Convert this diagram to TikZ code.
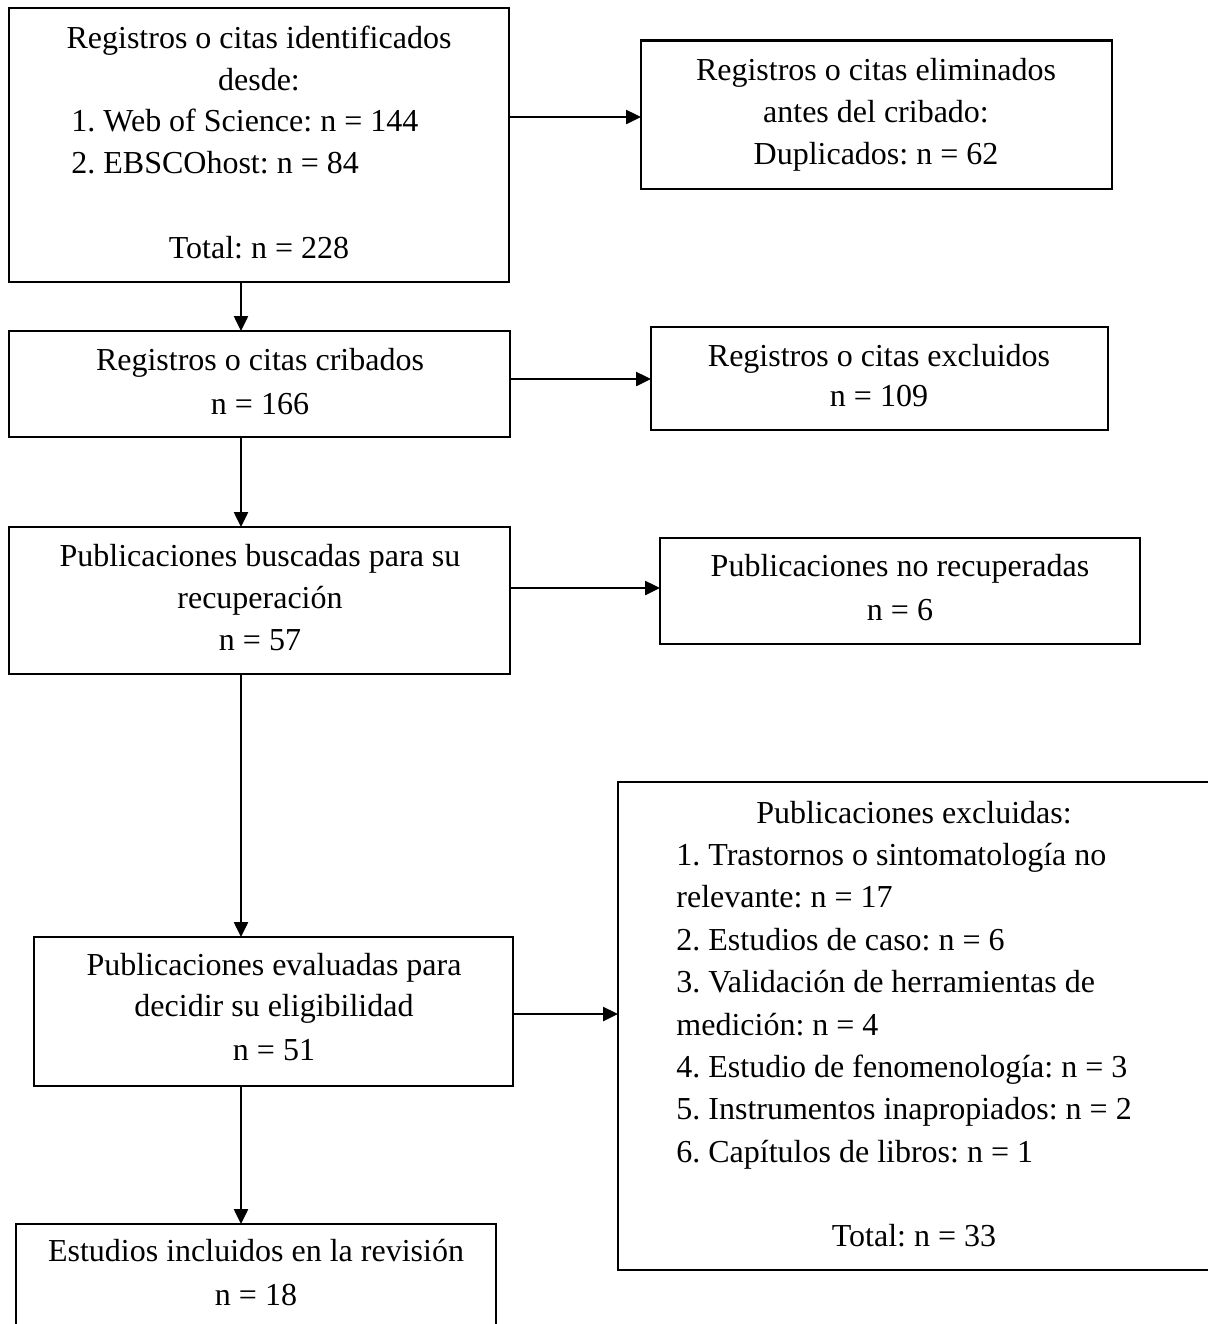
\documentclass[tikz,border=0pt]{standalone}
\usepackage{fontspec}
\setmainfont{Liberation Serif}
\frenchspacing
\usetikzlibrary{arrows.meta}
\begin{document}
\frenchspacing
\begin{tikzpicture}[x=0.5pt,y=-0.5pt,
  box/.style={draw, line width=1.1pt, inner sep=0pt, outer sep=0pt},
  txt/.style={inner sep=0pt, anchor=base, font=\fontsize{16pt}{20pt}\selectfont},
  ltxt/.style={txt, anchor=base west},
  arr/.style={line width=1.25pt, -{Triangle[length=7.5pt,width=7pt]}}]
\useasboundingbox (0,0) rectangle (1208,1324);
\clip (0,0) rectangle (1208,1324);

% boxes
\node[box, minimum width=250pt, minimum height=137pt] (A) at (259,145) {};
\node[box, minimum width=235.5pt, minimum height=74.25pt] (B) at (876.5,114.75) {};
\node[box, minimum width=250.5pt, minimum height=53pt] (C) at (259.5,384) {};
\node[box, minimum width=228.5pt, minimum height=51.5pt] (D) at (879.5,378.5) {};
\node[box, minimum width=250.5pt, minimum height=73.5pt] (E) at (259.5,600.5) {};
\node[box, minimum width=240pt, minimum height=53pt] (F) at (900,591) {};
\node[box, minimum width=239.5pt, minimum height=74.5pt] (G) at (273.5,1011.5) {};
\node[box, minimum width=306pt, minimum height=244pt] (H) at (924,1026) {};
\node[box, minimum width=240pt, minimum height=63pt] (I) at (256,1287) {};

% texts A
\node[txt] (a1) at (259,48.5) {Registros o citas identificados};
\node[txt] (a2) at (259,90.2) {desde:};
\node[ltxt] (a3) at (71,131.9) {1. Web of Science: n = 144};
\node[ltxt] (a4) at (71,173.6) {2. EBSCOhost: n = 84};
\node[txt] (a5) at (259,258) {Total: n = 228};
% texts B
\node[txt] (b1) at (876,80.5) {Registros o citas eliminados};
\node[txt] (b2) at (876,122.5) {antes del cribado:};
\node[txt] (b3) at (876,164.5) {Duplicados: n = 62};
% texts C
\node[txt] (c1) at (260,370.5) {Registros o citas cribados};
\node[txt] (c2) at (260,414) {n = 166};
% texts D
\node[txt] (d1) at (879,366) {Registros o citas excluidos};
\node[txt] (d2) at (879,406.5) {n = 109};
% texts E
\node[txt] (e1) at (260,566.5) {Publicaciones buscadas para su};
\node[txt] (e2) at (260,608.5) {recuperación};
\node[txt] (e3) at (260,650.5) {n = 57};
% texts F
\node[txt] (f1) at (900,576.5) {Publicaciones no recuperadas};
\node[txt] (f2) at (900,620.5) {n = 6};
% texts G
\node[txt] (g1) at (274,975.5) {Publicaciones evaluadas para};
\node[txt] (g2) at (274,1016.5) {decidir su eligibilidad};
\node[txt] (g3) at (274,1060.5) {n = 51};
% texts H
\node[txt] (h0) at (914,823) {Publicaciones excluidas:};
\node[ltxt] (h1) at (676,865) {1. Trastornos o sintomatología no};
\node[ltxt] (h2) at (676,907) {relevante: n = 17};
\node[ltxt] (h3) at (676,950) {2. Estudios de caso: n = 6};
\node[ltxt] (h4) at (676,992) {3. Validación de herramientas de};
\node[ltxt] (h5) at (676,1035) {medición: n = 4};
\node[ltxt] (h6) at (676,1077) {4. Estudio de fenomenología: n = 3};
\node[ltxt] (h7) at (676,1119) {5. Instrumentos inapropiados: n = 2};
\node[ltxt] (h8) at (676,1162) {6. Capítulos de libros: n = 1};
\node[txt] (h9) at (914,1246) {Total: n = 33};
% texts I
\node[txt] (i1) at (256,1261.5) {Estudios incluidos en la revisión};
\node[txt] (i2) at (256,1305.5) {n = 18};

% connector guides
\coordinate (colx) at (241,0);
\coordinate (rAB) at (0,117);
\coordinate (rCD) at (0,379);
\coordinate (rEF) at (0,588);
\coordinate (rGH) at (0,1014);

\draw[arr] (colx |- A.south) -- (colx |- C.north);
\draw[arr] (colx |- C.south) -- (colx |- E.north);
\draw[arr] (colx |- E.south) -- (colx |- G.north);
\draw[arr] (colx |- G.south) -- (colx |- I.north);
\draw[arr] (A.east |- rAB) -- (B.west |- rAB);
\draw[arr] (C.east |- rCD) -- (D.west |- rCD);
\draw[arr] (E.east |- rEF) -- (F.west |- rEF);
\draw[arr] (G.east |- rGH) -- (H.west |- rGH);
\end{tikzpicture}
\end{document}
